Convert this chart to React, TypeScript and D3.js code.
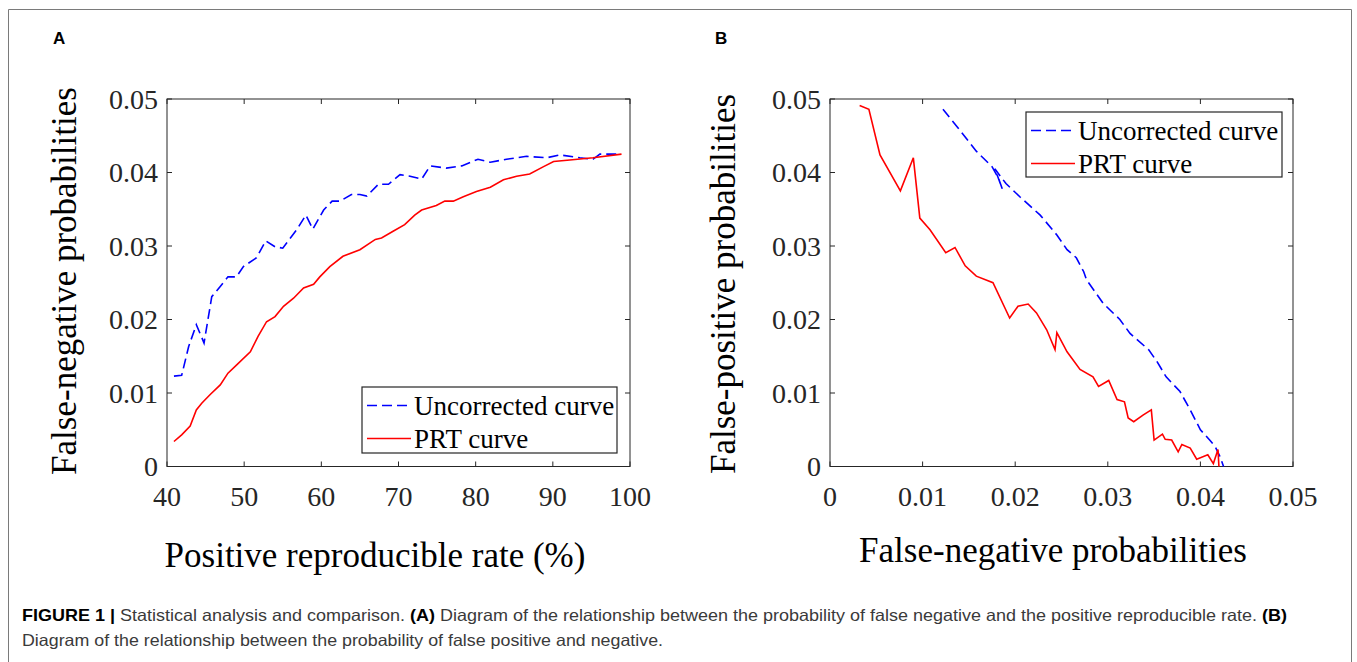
import React, { useEffect, useRef } from "react";
import * as d3 from "d3";

// Panel A: false-negative probability vs positive reproducible rate (%)
const uncorrectedRateA = [40.9, 41.9, 42.8, 43.8, 44.8, 45.8, 46.9, 47.9, 49.0, 49.9, 51.6, 52.8, 54.0, 55.0, 56.8, 58.0, 58.9, 60.3, 61.4, 62.4, 63.9, 65.0, 65.9, 67.4, 68.7, 70.2, 71.5, 73.0, 74.1, 76.2, 78.2, 80.3, 81.9, 84.0, 86.6, 89.2, 90.9, 93.5, 95.2, 96.1, 98.7];
const uncorrectedFnA = [0.0123, 0.0124, 0.0163, 0.0193, 0.0168, 0.0231, 0.0245, 0.0258, 0.0258, 0.0272, 0.0284, 0.0307, 0.0299, 0.0297, 0.0322, 0.0342, 0.0323, 0.0349, 0.0361, 0.0361, 0.037, 0.037, 0.0368, 0.0384, 0.0384, 0.0397, 0.0395, 0.0391, 0.0409, 0.0406, 0.0409, 0.0418, 0.0414, 0.0418, 0.0422, 0.042, 0.0424, 0.042, 0.0418, 0.0425, 0.0425];
const prtRateA = [40.9, 41.9, 43.0, 43.8, 44.5, 45.6, 46.9, 47.9, 49.0, 50.8, 51.8, 52.9, 54.0, 55.1, 56.4, 57.7, 59.0, 59.8, 61.1, 62.8, 65.0, 67.0, 67.8, 69.3, 70.8, 72.1, 73.0, 74.9, 76.0, 77.1, 78.4, 80.1, 81.9, 83.6, 85.3, 87.0, 88.8, 90.1, 92.2, 95.2, 98.9];
const prtFnA = [0.0034, 0.0043, 0.0055, 0.0077, 0.0086, 0.0098, 0.0111, 0.0127, 0.0138, 0.0156, 0.0177, 0.0197, 0.0204, 0.0218, 0.0229, 0.0243, 0.0248, 0.0258, 0.0272, 0.0286, 0.0295, 0.0309, 0.0311, 0.032, 0.0329, 0.0342, 0.0349, 0.0355, 0.0361, 0.0361, 0.0367, 0.0374, 0.038, 0.039, 0.0395, 0.0398, 0.0408, 0.0415, 0.0417, 0.042, 0.0425];

// Panel B: false-positive vs false-negative probability
const uncorrectedFnB = [0.0122, 0.014, 0.0158, 0.0175, 0.0182, 0.0186, 0.0178, 0.019, 0.0205, 0.0227, 0.0245, 0.0256, 0.0266, 0.0274, 0.0277, 0.0295, 0.0313, 0.0324, 0.0344, 0.0353, 0.0363, 0.0378, 0.0389, 0.04, 0.041, 0.0416, 0.0421, 0.0425];
const uncorrectedFpB = [0.0486, 0.0458, 0.0429, 0.0408, 0.0392, 0.0378, 0.0405, 0.0385, 0.0367, 0.0342, 0.0315, 0.0295, 0.0284, 0.0265, 0.0254, 0.0222, 0.02, 0.0181, 0.0159, 0.0143, 0.0122, 0.0102, 0.0077, 0.005, 0.0036, 0.0027, 0.0014, 0.0];
const prtFnB = [0.0032, 0.0042, 0.0054, 0.0076, 0.009, 0.0097, 0.0108, 0.0125, 0.0135, 0.0146, 0.0158, 0.0176, 0.0194, 0.0203, 0.0214, 0.0223, 0.0234, 0.0243, 0.0245, 0.0256, 0.027, 0.0284, 0.029, 0.0301, 0.031, 0.0318, 0.0322, 0.0328, 0.0338, 0.0347, 0.035, 0.0359, 0.0362, 0.0369, 0.0376, 0.038, 0.0389, 0.0396, 0.04, 0.0408, 0.0414, 0.0419, 0.042];
const prtFpB = [0.0491, 0.0486, 0.0424, 0.0375, 0.042, 0.0338, 0.0322, 0.0291, 0.0298, 0.0273, 0.0259, 0.025, 0.0202, 0.0218, 0.0221, 0.0209, 0.0186, 0.0159, 0.0182, 0.0156, 0.0132, 0.0122, 0.0109, 0.0117, 0.0091, 0.0088, 0.0066, 0.0061, 0.007, 0.0077, 0.0036, 0.0044, 0.0037, 0.0036, 0.002, 0.003, 0.0025, 0.001, 0.0012, 0.0016, 0.0004, 0.0023, 0.0];

const probTicks = [0, 0.01, 0.02, 0.03, 0.04, 0.05];
const rateTicks = [40, 50, 60, 70, 80, 90, 100];
const legendLabels = ["Uncorrected curve", "PRT curve"];

const SERIF = "'Liberation Serif', 'Times New Roman', serif";
const SANS = "'Liberation Sans', Arial, sans-serif";
const AXIS_COLOR = "#262626";

function drawPanel(svg, opts) {
  const { left, right, top, bottom, xDomain, xTicks, xFormat, series, legend, xLabel, yLabel } = opts;
  const x = d3.scaleLinear().domain(xDomain).range([left, right]);
  const y = d3.scaleLinear().domain([0, 0.05]).range([bottom, top]);
  const g = svg.append("g");

  // box + inner ticks on all sides
  g.append("rect")
    .attr("x", left).attr("y", top)
    .attr("width", right - left).attr("height", bottom - top)
    .attr("fill", "none").attr("stroke", AXIS_COLOR).attr("stroke-width", 1);

  const tl = 5;
  xTicks.forEach((t) => {
    g.append("line").attr("x1", x(t)).attr("x2", x(t)).attr("y1", bottom).attr("y2", bottom - tl).attr("stroke", AXIS_COLOR);
    g.append("line").attr("x1", x(t)).attr("x2", x(t)).attr("y1", top).attr("y2", top + tl).attr("stroke", AXIS_COLOR);
    g.append("text")
      .attr("x", x(t)).attr("y", bottom + 39)
      .attr("text-anchor", "middle")
      .attr("font-family", SERIF).attr("font-size", 28).attr("fill", AXIS_COLOR)
      .text(xFormat(t));
  });
  probTicks.forEach((t) => {
    g.append("line").attr("x1", left).attr("x2", left + tl).attr("y1", y(t)).attr("y2", y(t)).attr("stroke", AXIS_COLOR);
    g.append("line").attr("x1", right).attr("x2", right - tl).attr("y1", y(t)).attr("y2", y(t)).attr("stroke", AXIS_COLOR);
    g.append("text")
      .attr("x", left - 9).attr("y", y(t)).attr("dy", "0.34em")
      .attr("text-anchor", "end")
      .attr("font-family", SERIF).attr("font-size", 28).attr("fill", AXIS_COLOR)
      .text(t === 0 ? "0" : d3.format(".2f")(t));
  });

  const line = d3.line().x((d) => x(d[0])).y((d) => y(d[1]));
  series.forEach((s) => {
    g.append("path")
      .datum(d3.zip(s.xs, s.ys))
      .attr("d", line)
      .attr("fill", "none")
      .attr("stroke", s.color)
      .attr("stroke-width", 1.6)
      .attr("stroke-dasharray", s.dash || null);
  });

  // legend
  const lg = g.append("g");
  lg.append("rect")
    .attr("x", legend.x).attr("y", legend.y)
    .attr("width", legend.w).attr("height", legend.h)
    .attr("fill", "#fff").attr("stroke", AXIS_COLOR).attr("stroke-width", 1.2);
  series.forEach((s, i) => {
    const cy = legend.y + 18.5 + i * 33;
    lg.append("line")
      .attr("x1", legend.x + 5).attr("x2", legend.x + 49)
      .attr("y1", cy).attr("y2", cy)
      .attr("stroke", s.color).attr("stroke-width", 1.6)
      .attr("stroke-dasharray", s.dash || null);
    lg.append("text")
      .attr("x", legend.x + 52).attr("y", cy).attr("dy", "0.34em")
      .attr("font-family", SERIF).attr("font-size", 27).attr("fill", "#000")
      .text(legendLabels[i]);
  });

  // axis labels
  g.append("text")
    .attr("x", xLabel.x).attr("y", xLabel.y)
    .attr("text-anchor", "middle")
    .attr("font-family", SERIF).attr("font-size", 35).attr("fill", "#000")
    .text(xLabel.text);
  g.append("text")
    .attr("transform", `translate(${yLabel.x},${yLabel.y}) rotate(-90)`)
    .attr("text-anchor", "middle").attr("dy", "0.34em")
    .attr("font-family", SERIF).attr("font-size", 35).attr("fill", "#000")
    .text(yLabel.text);
}

const App = () => {
  const svgRef = useRef(null);

  useEffect(() => {
    const svg = d3.select(svgRef.current);
    svg.selectAll("*").remove();

    svg.append("rect").attr("width", 1357).attr("height", 662).attr("fill", "#fff");
    // figure frame
    svg.append("path")
      .attr("d", "M8.5,672 L8.5,9.5 L1351.5,9.5 L1351.5,672")
      .attr("fill", "none").attr("stroke", "#7a7a7a").attr("stroke-width", 1);

    svg.append("text").attr("x", 53).attr("y", 44)
      .attr("font-family", SANS).attr("font-weight", "bold").attr("font-size", 17).text("A");
    svg.append("text").attr("x", 715).attr("y", 44)
      .attr("font-family", SANS).attr("font-weight", "bold").attr("font-size", 17).text("B");

    drawPanel(svg, {
      left: 167, right: 630, top: 99, bottom: 466.5,
      xDomain: [40, 100], xTicks: rateTicks, xFormat: (t) => String(t),
      series: [
        { xs: uncorrectedRateA, ys: uncorrectedFnA, color: "#0000ff", dash: "10,5" },
        { xs: prtRateA, ys: prtFnA, color: "#ff0000" },
      ],
      legend: { x: 362, y: 387, w: 255, h: 66 },
      xLabel: { x: 375, y: 567, text: "Positive reproducible rate (%)" },
      yLabel: { x: 64, y: 281, text: "False-negative probabilities" },
    });

    drawPanel(svg, {
      left: 830, right: 1293, top: 99, bottom: 466.5,
      xDomain: [0, 0.05], xTicks: probTicks, xFormat: (t) => (t === 0 ? "0" : d3.format(".2f")(t)),
      series: [
        { xs: uncorrectedFnB, ys: uncorrectedFpB, color: "#0000ff", dash: "10,5" },
        { xs: prtFnB, ys: prtFpB, color: "#ff0000" },
      ],
      legend: { x: 1026, y: 112, w: 256, h: 65 },
      xLabel: { x: 1053, y: 562, text: "False-negative probabilities" },
      yLabel: { x: 723, y: 284, text: "False-positive probabilities" },
    });

    // caption
    const cap1 = svg.append("text").attr("x", 22).attr("y", 621)
      .attr("font-family", SANS).attr("font-size", 16.5).attr("fill", "#3a3a3a")
      .attr("textLength", 1265).attr("lengthAdjust", "spacingAndGlyphs");
    cap1.append("tspan").attr("font-weight", "bold").attr("fill", "#000").text("FIGURE 1 | ");
    cap1.append("tspan").text("Statistical analysis and comparison. ");
    cap1.append("tspan").attr("font-weight", "bold").attr("fill", "#000").text("(A)");
    cap1.append("tspan").text(" Diagram of the relationship between the probability of false negative and the positive reproducible rate. ");
    cap1.append("tspan").attr("font-weight", "bold").attr("fill", "#000").text("(B)");
    svg.append("text").attr("x", 22).attr("y", 646)
      .attr("font-family", SANS).attr("font-size", 16.5).attr("fill", "#3a3a3a")
      .attr("textLength", 641).attr("lengthAdjust", "spacingAndGlyphs")
      .text("Diagram of the relationship between the probability of false positive and negative.");
  }, []);

  return (
    <svg
      ref={svgRef}
      width={1357}
      height={662}
      style={{ position: "absolute", left: 0, top: 0, display: "block" }}
    />
  );
};

export default App;
